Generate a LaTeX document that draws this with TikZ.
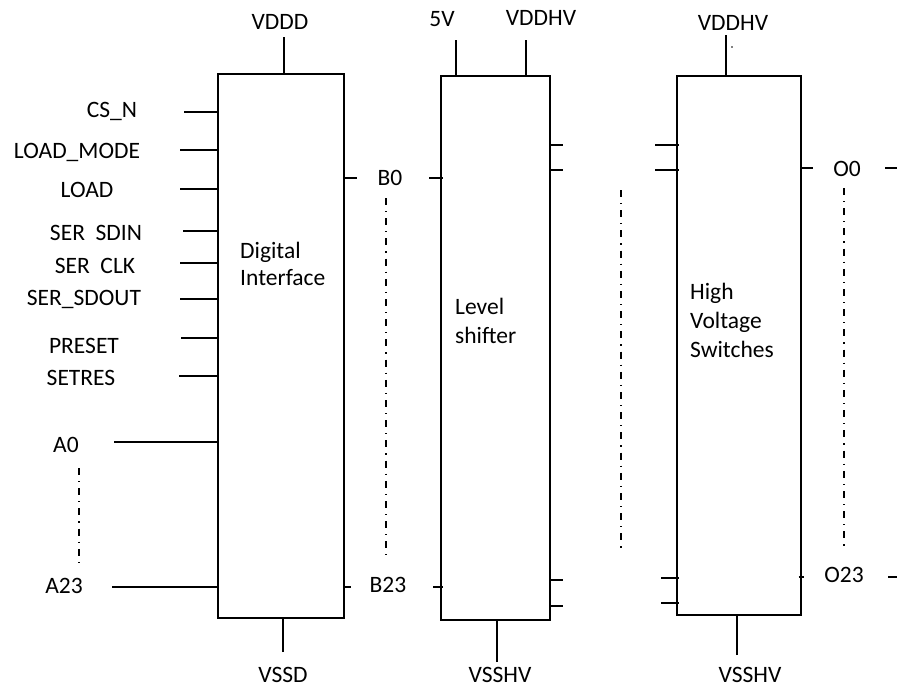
\documentclass[tikz,border=0pt]{standalone}
\usepackage{fontspec}
\setmainfont{Carlito}
\begin{document}
\begin{tikzpicture}[x=1pt,y=-1pt,
  wire/.style={line width=1.7pt},
  blk/.style={draw,line width=1.7pt,inner sep=0pt,anchor=north west},
  lbl/.style={inner sep=0pt,anchor=base,font=\fontsize{23.5}{28}\selectfont},
  lbll/.style={inner sep=0pt,anchor=base west,font=\fontsize{23.5}{28}\selectfont},
  dd/.style={line width=1.8pt,dash pattern=on 7pt off 6pt on 1.2pt off 6pt}]
\useasboundingbox (0,0) rectangle (897,689);
% blocks
\node[blk,minimum width=126pt,minimum height=544pt] (b1) at (217,73) {};
\node[blk,minimum width=109pt,minimum height=544pt] (b2) at (440,75) {};
\node[blk,minimum width=124pt,minimum height=539pt] (b3) at (676,75) {};
% block texts
\node[lbll] (t1a) at (240,258) {Digital};
\node[lbll] (t1b) at (240,285) {Interface};
\node[lbll] (t2a) at (455,314) {Level};
\node[lbll] (t2b) at (455,343) {shifter};
\node[lbll] (t3a) at (690,299) {High};
\node[lbll] (t3b) at (690,328) {Voltage};
\node[lbll] (t3c) at (690,357) {Switches};
% supply labels
\node[lbl] (vddd) at (280,29) {VDDD};
\node[lbl] (v5) at (442,26) {5V};
\node[lbl] (vddhv1) at (541,25) {VDDHV};
\node[lbl] (vddhv2) at (733,30) {VDDHV};
\node[lbl] (vssd) at (283,682) {VSSD};
\node[lbl] (vsshv1) at (500,682) {VSSHV};
\node[lbl] (vsshv2) at (750,682) {VSSHV};
% supply wires
\coordinate (cvddd) at (284,37);
\coordinate (cv5) at (456,40);
\coordinate (cvh1) at (526,40);
\coordinate (cvh2) at (726,35);
\coordinate (cvssd) at (283,652);
\coordinate (cvs1) at (497,662);
\coordinate (cvs2) at (737,655);
\draw[wire] (cvddd) -- (cvddd |- b1.north);
\draw[wire] (cv5) -- (cv5 |- b2.north);
\draw[wire] (cvh1) -- (cvh1 |- b2.north);
\draw[wire] (cvh2) -- (cvh2 |- b3.north);
\draw[wire] (cvssd) -- (cvssd |- b1.south);
\draw[wire] (cvs1) -- (cvs1 |- b2.south);
\draw[wire] (cvs2) -- (cvs2 |- b3.south);
\fill (732,47) circle (0.9pt);
% left inputs
\node[lbl] (cs) at (112,117) {CS\_N};
\node[lbl] (lm) at (77,158) {LOAD\_MODE};
\node[lbl] (ld) at (87,197) {LOAD};
\node[lbl] (sdin) at (96,240) {SER\ \ SDIN};
\node[lbl] (clk) at (95,273) {SER\ \ CLK};
\node[lbl] (sdout) at (84,305) {SER\_SDOUT};
\node[lbl] (pre) at (84,353) {PRESET};
\node[lbl] (setr) at (81,385) {SETRES};
\node[lbl] (a0) at (66,452) {A0};
\node[lbl] (a23) at (64,593) {A23};
\foreach \yy/\xx/\nm in {112/184/pcs,150/180/plm,189/180/pld,231/183/psdin,263/180/pclk,299/180/psdout,338/181/ppre,376/179/psetr,442/114/pa0,587/112/pa23}{
  \coordinate (\nm) at (\xx,\yy);
  \draw[wire] (\nm) -- (\nm -| b1.west);
}
\draw[dd] (79,468) -- (79,563);
% B bus
\node[lbl] (lb0) at (390,185) {B0};
\node[lbl] (lb23) at (388,592) {B23};
\coordinate (pb0r) at (357,178);
\coordinate (pb0l) at (429,178);
\coordinate (pb23r) at (351,587);
\coordinate (pb23l) at (433,587);
\draw[wire] (pb0r -| b1.east) -- (pb0r);
\draw[wire] (pb0l) -- ([xshift=3pt]pb0l -| b2.west);
\draw[wire] (pb23r -| b1.east) -- (pb23r);
\draw[wire] (pb23l) -- ([xshift=3pt]pb23l -| b2.west);
\draw[dd] (386,198) -- (386,555);
% level shifter outputs and switch inputs
\foreach \yy/\nm in {145/q1,170/q2,580/q3,606/q4}{
  \coordinate (\nm) at (563,\yy);
  \draw[wire] (\nm -| b2.east) -- (\nm);
}
\coordinate (r1) at (655,145);
\coordinate (r2) at (655,170);
\coordinate (r3) at (661,578);
\coordinate (r4) at (661,603);
\foreach \nm in {r1,r2,r3,r4}{
  \draw[wire] (\nm) -- ([xshift=3pt]\nm -| b3.west);
}
\draw[dd] (621,190) -- (621,550);
% O outputs
\node[lbl] (lo0) at (847,176) {O0};
\node[lbl] (lo23) at (844,582) {O23};
\coordinate (po0) at (813,168);
\coordinate (po0b) at (885,168);
\coordinate (po0c) at (897,168);
\coordinate (po23) at (804,577);
\coordinate (po23b) at (888,577);
\coordinate (po23c) at (897,577);
\draw[wire] (po0 -| b3.east) -- (po0);
\draw[wire] (po0b) -- (po0c);
\draw[wire] ([xshift=-3pt]po23 -| b3.east) -- (po23);
\draw[wire] (po23b) -- (po23c);
\draw[dd] (844,188) -- (844,546);
\end{tikzpicture}
\end{document}
